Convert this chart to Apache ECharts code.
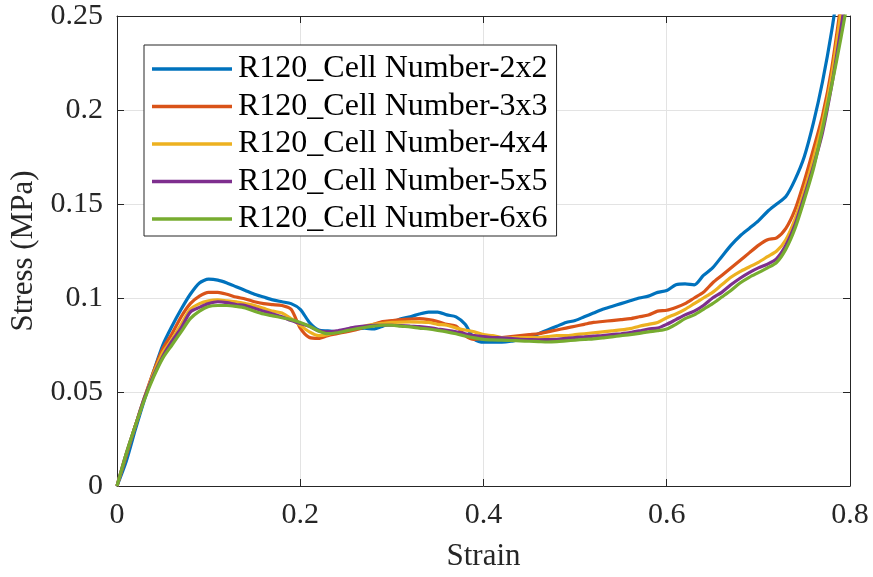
<!DOCTYPE html>
<html>
<head>
<meta charset="utf-8">
<script src="https://cdn.jsdelivr.net/npm/echarts@6/dist/echarts.min.js"></script>
<style>
html,body{margin:0;padding:0;background:#fff;}
#chart{width:873px;height:577px;}
</style>
</head>
<body>
<div id="chart"></div>
<script>
var seriesNames = ['R120_Cell Number-2x2','R120_Cell Number-3x3','R120_Cell Number-4x4','R120_Cell Number-5x5','R120_Cell Number-6x6'];
var xTicks = [0, 0.2, 0.4, 0.6, 0.8];
var yTicks = [0, 0.05, 0.1, 0.15, 0.2, 0.25];
var strain = [0,0.01,0.02,0.03,0.04,0.05,0.06,0.07,0.08,0.09,
0.10,0.11,0.12,0.13,0.14,0.15,0.16,0.17,0.18,0.19,
0.20,0.21,0.22,0.23,0.24,0.25,0.26,0.27,0.28,0.29,
0.30,0.31,0.32,0.33,0.34,0.35,0.36,0.37,0.38,0.39,
0.40,0.41,0.42,0.43,0.44,0.45,0.46,0.47,0.48,0.49,
0.50,0.51,0.52,0.53,0.54,0.55,0.56,0.57,0.58,0.59,
0.60,0.61,0.62,0.63,0.64,0.65,0.66,0.67,0.68,0.69,
0.70,0.71,0.72,0.73,0.74,0.75,0.76,0.77,0.78,0.79,0.80];
var stress2x2 = [0,0.013,0.030,0.046,0.061,0.075,0.085,0.094,0.102,0.108,
0.110,0.1095,0.108,0.106,0.104,0.102,0.1005,0.099,0.098,0.097,
0.094,0.087,0.083,0.0825,0.082,0.083,0.0835,0.084,0.0835,0.085,
0.087,0.089,0.090,0.0915,0.0925,0.0925,0.091,0.090,0.086,0.078,
0.0765,0.0765,0.0765,0.077,0.078,0.079,0.081,0.083,0.085,0.087,
0.088,0.090,0.092,0.094,0.0955,0.097,0.0985,0.100,0.101,0.103,
0.104,0.107,0.1075,0.107,0.112,0.116,0.122,0.128,0.133,0.137,
0.141,0.146,0.150,0.154,0.163,0.175,0.193,0.215,0.242,0.275,0.31];
var stress3x3 = [0,0.016,0.032,0.047,0.061,0.073,0.081,0.090,0.097,0.101,
0.103,0.103,0.102,0.1005,0.0995,0.098,0.097,0.0965,0.096,0.094,
0.084,0.079,0.0785,0.080,0.081,0.082,0.083,0.0845,0.086,0.0875,
0.088,0.0885,0.0888,0.089,0.0885,0.0875,0.086,0.085,0.080,0.078,
0.0785,0.0785,0.079,0.0795,0.080,0.0805,0.081,0.082,0.083,0.084,
0.085,0.086,0.087,0.0875,0.088,0.0885,0.089,0.090,0.091,0.093,
0.0935,0.095,0.097,0.100,0.103,0.108,0.112,0.116,0.120,0.124,
0.128,0.131,0.132,0.137,0.147,0.162,0.179,0.197,0.222,0.256,0.29];
var stress4x4 = [0,0.017,0.032,0.047,0.060,0.071,0.078,0.086,0.094,0.097,
0.0985,0.099,0.0985,0.098,0.097,0.096,0.0945,0.093,0.092,0.089,
0.0855,0.082,0.080,0.0805,0.082,0.083,0.084,0.085,0.086,0.0865,
0.087,0.0872,0.0873,0.0872,0.087,0.086,0.0855,0.084,0.083,0.082,
0.0805,0.080,0.079,0.079,0.079,0.079,0.079,0.0795,0.080,0.080,
0.0805,0.081,0.0815,0.082,0.0825,0.083,0.0837,0.085,0.086,0.087,
0.0895,0.0915,0.094,0.097,0.100,0.103,0.107,0.111,0.114,0.1165,
0.119,0.122,0.125,0.131,0.142,0.157,0.174,0.193,0.218,0.252,0.29];
var stress5x5 = [0,0.017,0.032,0.047,0.059,0.069,0.077,0.084,0.0925,0.095,
0.097,0.098,0.0975,0.0965,0.096,0.0945,0.093,0.0915,0.090,0.088,
0.0865,0.085,0.0825,0.082,0.0825,0.0835,0.0845,0.085,0.0855,0.0855,
0.0855,0.0853,0.085,0.0848,0.0843,0.0835,0.0828,0.082,0.081,0.080,
0.0795,0.079,0.0788,0.0785,0.078,0.0779,0.0778,0.0779,0.078,0.0785,
0.079,0.0793,0.0797,0.080,0.0805,0.081,0.0816,0.0825,0.0835,0.084,
0.086,0.0885,0.091,0.093,0.096,0.100,0.103,0.107,0.1105,0.1135,
0.116,0.118,0.121,0.128,0.139,0.154,0.170,0.188,0.213,0.243,0.275];
var stress6x6 = [0,0.017,0.032,0.046,0.058,0.068,0.075,0.082,0.089,0.093,
0.0955,0.096,0.096,0.0955,0.0947,0.093,0.0915,0.0905,0.0895,0.0885,
0.087,0.085,0.0825,0.081,0.0815,0.0825,0.0835,0.0843,0.085,0.0855,
0.0855,0.085,0.0846,0.084,0.0835,0.0828,0.082,0.081,0.0798,0.0788,
0.078,0.0777,0.0776,0.0774,0.0772,0.077,0.0768,0.0766,0.0768,0.0772,
0.0776,0.078,0.0783,0.0788,0.0793,0.080,0.0805,0.0812,0.082,0.0826,
0.0835,0.086,0.089,0.091,0.094,0.097,0.1005,0.104,0.108,0.111,
0.1135,0.116,0.119,0.126,0.137,0.152,0.1685,0.19,0.213,0.238,0.265];

var allStress = [stress2x2, stress3x3, stress4x4, stress5x5, stress6x6];
var colors = ['#0072BD','#D95319','#EDB120','#7E2F8E','#77AC30'];
var FONT = "'Times New Roman','Liberation Serif',serif";
var AX = '#262626';

function pairs(ys){ return strain.map(function(x,i){ return [x, ys[i]]; }); }

var chart = echarts.init(document.getElementById('chart'), null, {renderer:'canvas'});
var axisCommon = {
  axisLine:{show:true, onZero:false, lineStyle:{color:AX, width:1}},
  axisTick:{show:true, inside:true, length:7, lineStyle:{color:AX, width:1}},
  splitLine:{show:false},
  axisLabel:{show:false}
};
var option = {
  animation:false,
  backgroundColor:'#fff',
  grid:{left:117, right:23, top:16, bottom:89, containLabel:false},
  legend:{
    orient:'vertical', left:144, top:45,
    data:seriesNames,
    icon:'rect', itemWidth:80, itemHeight:3.5, itemGap:5.5,
    padding:[8,9,1,8],
    backgroundColor:'#fff', borderColor:AX, borderWidth:1, borderRadius:0,
    textStyle:{fontFamily:FONT, fontSize:32, color:'#000', lineHeight:31, padding:[0,0,0,1]}
  },
  xAxis:[
    {type:'value', min:0, max:0.8, interval:0.2, position:'bottom',
     axisLine:{show:true, onZero:false, lineStyle:{color:AX, width:1}},
     axisTick:{show:true, inside:true, length:7, lineStyle:{color:AX}},
     axisLabel:{show:true, fontFamily:FONT, fontSize:30, color:AX, margin:14,
       formatter:function(v){ var t = xTicks.filter(function(k){return Math.abs(k-v)<1e-9;}); return t.length? String(t[0]) : ''; }},
     splitLine:{show:true, lineStyle:{color:'#e3e3e3', width:1}},
     name:'Strain', nameLocation:'middle', nameGap:55,
     nameTextStyle:{fontFamily:FONT, fontSize:31, color:AX}},
    Object.assign({type:'value', min:0, max:0.8, interval:0.2, position:'top'}, axisCommon)
  ],
  yAxis:[
    {type:'value', min:0, max:0.25, interval:0.05, position:'left',
     axisLine:{show:true, onZero:false, lineStyle:{color:AX, width:1}},
     axisTick:{show:true, inside:true, length:7, lineStyle:{color:AX}},
     axisLabel:{show:true, fontFamily:FONT, fontSize:30, color:AX, margin:14,
       formatter:function(v){ var t = yTicks.filter(function(k){return Math.abs(k-v)<1e-9;}); return t.length? String(t[0]) : ''; }},
     splitLine:{show:true, lineStyle:{color:'#e3e3e3', width:1}},
     name:'Stress (MPa)', nameLocation:'middle', nameGap:73,
     nameTextStyle:{fontFamily:FONT, fontSize:31, color:AX}},
    Object.assign({type:'value', min:0, max:0.25, interval:0.05, position:'right'}, axisCommon)
  ],
  series: seriesNames.map(function(n,i){
    return {name:n, type:'line', data:pairs(allStress[i]), showSymbol:false, symbol:'none',
      smooth:0.25, clip:true, color:colors[i],
      lineStyle:{color:colors[i], width:3.2}, z:2+i};
  })
};
chart.setOption(option);
</script>
</body>
</html>
